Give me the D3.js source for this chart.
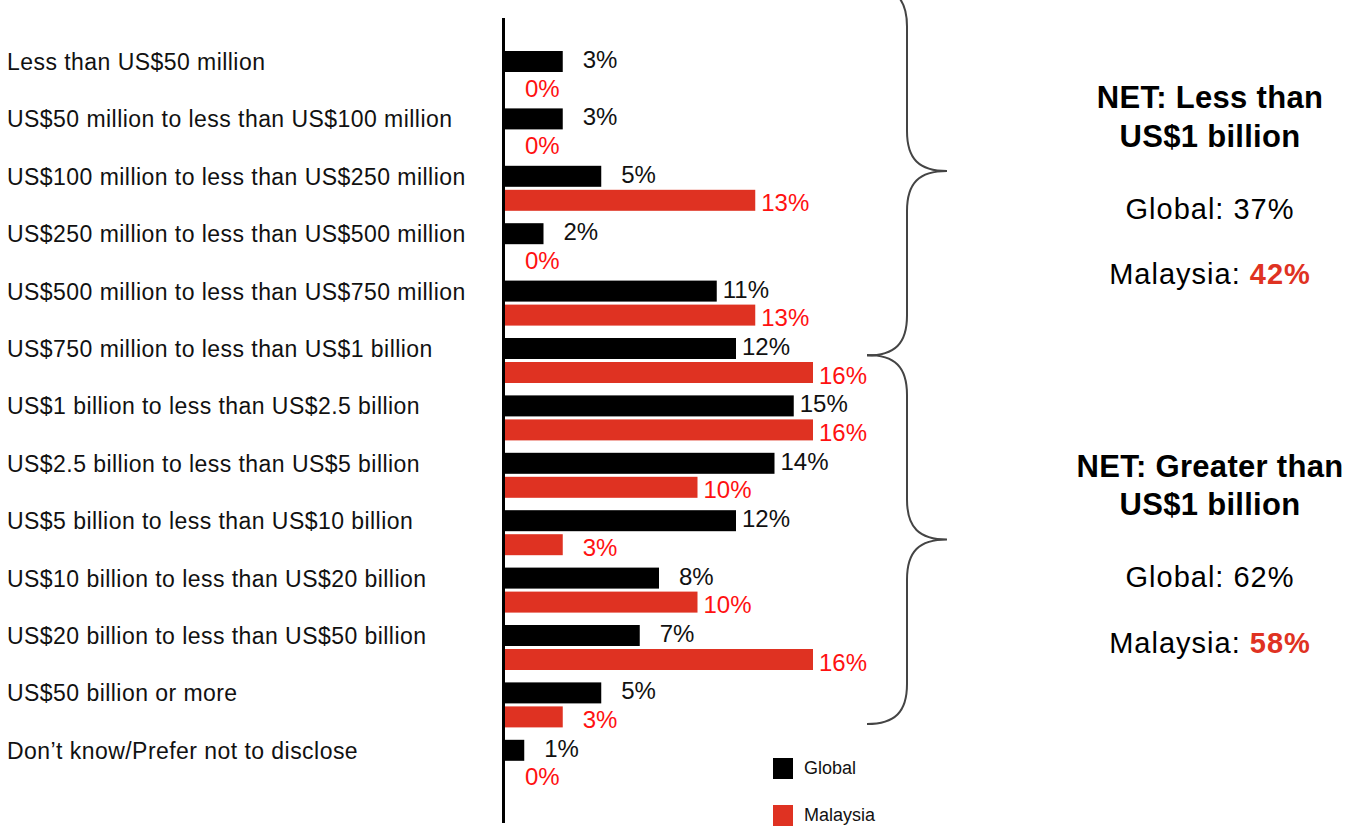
<!DOCTYPE html>
<html>
<head>
<meta charset="utf-8">
<script src="https://cdn.jsdelivr.net/npm/d3@7"></script>
<style>
  html, body { margin: 0; padding: 0; background: #fff; }
  svg { display: block; font-family: "Liberation Sans", Arial, Helvetica, sans-serif; }
</style>
</head>
<body>
<svg id="chart" width="1357" height="826"></svg>
<script>
// Annual revenue bands
const categories = [
  "Less than US$50 million",
  "US$50 million to less than US$100 million",
  "US$100 million to less than US$250 million",
  "US$250 million to less than US$500 million",
  "US$500 million to less than US$750 million",
  "US$750 million to less than US$1 billion",
  "US$1 billion to less than US$2.5 billion",
  "US$2.5 billion to less than US$5 billion",
  "US$5 billion to less than US$10 billion",
  "US$10 billion to less than US$20 billion",
  "US$20 billion to less than US$50 billion",
  "US$50 billion or more",
  "Don\u2019t know/Prefer not to disclose"
];
// Share of respondents (%)
const globalValues   = [3, 3, 5, 2, 11, 12, 15, 14, 12, 8, 7, 5, 1];
const malaysiaValues = [0, 0, 13, 0, 13, 16, 16, 10, 3, 10, 16, 3, 0];

const seriesNames = ["Global", "Malaysia"];

// Net summaries for the two groups of bands
const netTitles = [["NET: Less than", "US$1 billion"], ["NET: Greater than", "US$1 billion"]];
const netGlobal = [37, 62];
const netMalaysia = [42, 58];

const BLACK = "#000000";
const RED = "#DF3222";
const RED_TEXT = "#FF1111";

const svg = d3.select("#chart");

const x = d3.scaleLinear().domain([0, 20]).range([505, 890]);
const y = d3.scaleBand().domain(categories).range([51, 51 + 13 * 57.4]).padding(0);

const barH = 21;
const redOffset = 24;

// Category labels
svg.append("g").selectAll("text")
  .data(categories)
  .join("text")
  .attr("x", 7)
  .attr("y", d => y(d) + 19)
  .attr("font-size", 23)
  .attr("letter-spacing", 0.45)
  .attr("fill", "#111")
  .text(d => d);

const rows = categories.map((c, i) => ({ c, g: globalValues[i], m: malaysiaValues[i] }));

// Bars
const gBars = svg.append("g");
gBars.selectAll("rect.global")
  .data(rows)
  .join("rect")
  .attr("class", "global")
  .attr("x", x(0))
  .attr("y", d => y(d.c))
  .attr("width", d => x(d.g) - x(0))
  .attr("height", barH)
  .attr("fill", BLACK);

gBars.selectAll("rect.malaysia")
  .data(rows)
  .join("rect")
  .attr("class", "malaysia")
  .attr("x", x(0))
  .attr("y", d => y(d.c) + redOffset)
  .attr("width", d => x(d.m) - x(0))
  .attr("height", barH)
  .attr("fill", RED);

// Value labels
const pad = v => (String(v).length === 1 ? 20 : 6);
svg.append("g").selectAll("text")
  .data(rows)
  .join("text")
  .attr("x", d => x(d.g) + pad(d.g))
  .attr("y", d => y(d.c) + 17)
  .attr("font-size", 24)
  .attr("fill", "#111")
  .text(d => d.g + "%");

svg.append("g").selectAll("text")
  .data(rows)
  .join("text")
  .attr("x", d => x(d.m) + pad(d.m))
  .attr("y", d => y(d.c) + 45.5)
  .attr("font-size", 24)
  .attr("fill", RED_TEXT)
  .text(d => d.m + "%");

// Vertical axis line
svg.append("line")
  .attr("x1", 503.5).attr("x2", 503.5)
  .attr("y1", 18).attr("y2", 823)
  .attr("stroke", "#000")
  .attr("stroke-width", 3);

// Legend
const legend = svg.append("g");
seriesNames.forEach((name, i) => {
  const ly = 758 + i * 47;
  legend.append("rect")
    .attr("x", 773).attr("y", ly)
    .attr("width", 20).attr("height", 21)
    .attr("fill", i === 0 ? BLACK : RED);
  legend.append("text")
    .attr("x", 804).attr("y", ly + 16)
    .attr("font-size", 18)
    .attr("fill", "#111")
    .text(name);
});

// Curly braces grouping the bands
function bracePath(cy, h) {
  const x0 = 867, xs = 907, xt = 947, r = 40;
  return [
    `M${x0},${cy - h}`,
    `C${x0 + 28},${cy - h} ${xs},${cy - h + 12} ${xs},${cy - h + r}`,
    `L${xs},${cy - r}`,
    `C${xs},${cy - 12} ${xs + 12},${cy} ${xt},${cy}`,
    `C${xs + 12},${cy} ${xs},${cy + 12} ${xs},${cy + r}`,
    `L${xs},${cy + h - r}`,
    `C${xs},${cy + h - 12} ${x0 + 28},${cy + h} ${x0},${cy + h}`
  ].join(" ");
}
const braces = [{ cy: 171, h: 184.5 }, { cy: 539.5, h: 184.5 }];
svg.append("g").selectAll("path")
  .data(braces)
  .join("path")
  .attr("d", d => bracePath(d.cy, d.h))
  .attr("fill", "none")
  .attr("stroke", "#444")
  .attr("stroke-width", 2);

// Net summary text blocks
const netTops = [108, 476.5];
netTitles.forEach((lines, i) => {
  const t = netTops[i];
  const g = svg.append("g").attr("text-anchor", "middle");
  lines.forEach((ln, j) => {
    g.append("text")
      .attr("x", 1210).attr("y", t + j * 38.5)
      .attr("font-size", 31)
      .attr("font-weight", "bold")
      .attr("letter-spacing", 0.3)
      .attr("fill", "#000")
      .text(ln);
  });
  g.append("text")
    .attr("x", 1210).attr("y", t + 110.5)
    .attr("font-size", 29)
    .attr("letter-spacing", 1)
    .attr("fill", "#000")
    .text("Global: " + netGlobal[i] + "%");
  const m = g.append("text")
    .attr("x", 1210).attr("y", t + 176)
    .attr("font-size", 29)
    .attr("letter-spacing", 1)
    .attr("fill", "#000");
  m.append("tspan").text("Malaysia: ");
  m.append("tspan")
    .attr("font-weight", "bold")
    .attr("fill", RED)
    .text(netMalaysia[i] + "%");
});
</script>
</body>
</html>
